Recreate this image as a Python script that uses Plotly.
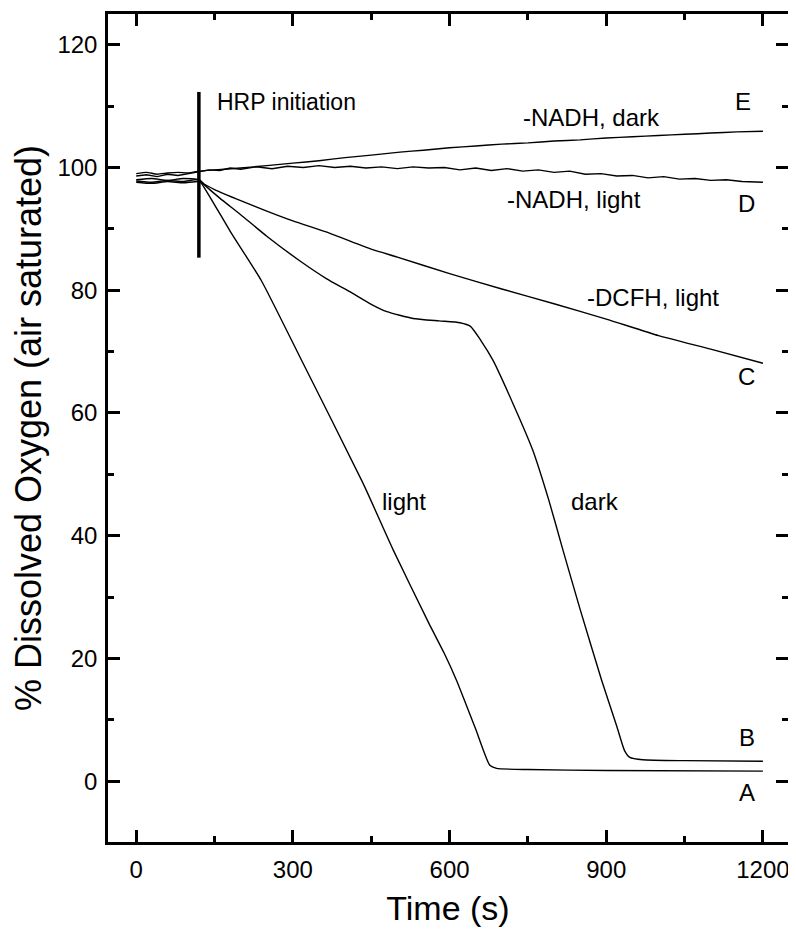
import plotly.graph_objects as go

# ---- data ----
t_E = [0, 20, 40, 60, 80, 100, 120, 150, 200, 250, 300, 350, 400, 450, 505, 550, 600, 650, 700,
       750, 800, 850, 900, 950, 1000, 1050, 1100, 1150, 1200]
y_E = [99.0, 99.2, 98.9, 99.1, 99.2, 99.1, 99.4, 99.6, 99.9, 100.3, 100.7, 101.1, 101.6, 102.0, 102.5,
       102.8, 103.2, 103.5, 103.8, 104.0, 104.3, 104.5, 104.8, 105.0, 105.2, 105.4, 105.6, 105.8, 105.9]

t_D = [0, 20, 40, 60, 80, 100, 120, 140, 160, 180, 200, 230, 260, 290, 320, 350, 380, 410, 440, 470,
       500, 530, 560, 590, 620, 650, 680, 710, 740, 770, 800, 830, 860, 890, 920, 950, 980, 1010,
       1040, 1070, 1100, 1130, 1160, 1200]
y_D = [98.6, 98.8, 98.5, 98.9, 98.7, 99.0, 99.2, 99.6, 99.5, 99.9, 99.7, 100.1, 99.8, 100.2, 100.0,
       100.3, 100.0, 100.2, 99.9, 100.1, 99.8, 100.1, 99.9, 100.0, 99.6, 99.9, 99.5, 99.8, 99.4, 99.6,
       99.2, 99.4, 98.9, 99.0, 98.6, 98.7, 98.3, 98.5, 98.1, 98.2, 97.9, 98.0, 97.7, 97.6]

t_C = [0, 30, 60, 90, 120, 130, 150, 200, 250, 300, 370, 453, 500, 600, 700, 800, 900, 1000, 1100, 1200]
y_C = [98.0, 98.2, 97.9, 98.2, 98.0, 97.3, 96.4, 94.6, 92.9, 91.3, 89.3, 86.6, 85.4, 82.7, 80.2, 77.8,
       75.3, 72.6, 70.4, 68.1]

t_B = [0, 30, 60, 90, 120, 130, 160, 200, 250, 313, 364, 408, 450, 480, 530, 580, 620, 640, 660, 683,
       720, 759, 790, 817, 850, 891, 920, 935, 945, 970, 1050, 1200]
y_B = [97.8, 97.6, 97.9, 97.7, 98.0, 97.2, 95.0, 92.3, 88.8, 84.8, 81.9, 79.8, 77.7, 76.5, 75.4, 75.0,
       74.7, 74.1, 71.8, 68.6, 61.8, 54.0, 45.8, 37.7, 28.0, 16.5, 9.0, 5.0, 3.9, 3.5, 3.35, 3.25]

t_A = [0, 30, 60, 90, 120, 125, 180, 240, 313, 434, 492, 560, 590, 613, 650, 677, 690, 750, 900, 1200]
y_A = [97.6, 97.4, 97.7, 97.5, 97.7, 97.4, 89.6, 81.5, 69.2, 48.6, 37.7, 25.8, 20.8, 16.5, 8.5, 2.6,
       2.1, 1.9, 1.75, 1.65]

hrp_t = [120, 120]
hrp_y = [85.3, 112.3]

labels = ["HRP initiation", "-NADH, dark", "E", "-NADH, light", "D", "-DCFH, light", "C",
          "light", "dark", "B", "A"]
label_x = [150, 872, 1162, 839, 1169, 990, 1169, 513, 879, 1169, 1169]
label_y = [110.7, 108.2, 110.8, 94.8, 94.1, 78.8, 66.0, 45.6, 45.6, 7.05, -1.85]
label_anchor = ["left", "center", "center", "center", "center", "center", "center",
                "center", "center", "center", "center"]
label_size = [23, 24, 24, 24, 24, 24, 24, 24, 24, 24, 24]

x_ticks = [0, 300, 600, 900, 1200]
y_ticks = [0, 20, 40, 60, 80, 100, 120]

FONT = "Liberation Sans, Arial, Helvetica, sans-serif"

fig = go.Figure()
for t, y, name, shape in [(t_E, y_E, "E", "spline"), (t_D, y_D, "D", "linear"),
                          (t_C, y_C, "C", "spline"), (t_B, y_B, "B", "spline"),
                          (t_A, y_A, "A", "spline")]:
    ln = dict(color="black", width=1.4, shape=shape)
    if shape == "spline":
        ln["smoothing"] = 0.5
    fig.add_trace(go.Scatter(x=t, y=y, mode="lines", line=ln, name=name, showlegend=False))

fig.add_trace(go.Scatter(x=hrp_t, y=hrp_y, mode="lines", line=dict(color="black", width=3.5),
                         showlegend=False))

for txt, lx, ly, anc, sz in zip(labels, label_x, label_y, label_anchor, label_size):
    fig.add_annotation(x=lx, y=ly, text=txt, showarrow=False, xanchor=anc, yanchor="middle",
                       font=dict(family=FONT, size=sz, color="black"))

axis_common = dict(showline=True, linecolor="black", linewidth=2.5, mirror="ticks",
                   ticks="inside", tickcolor="black", tickwidth=2.5, showgrid=False, zeroline=False,
                   automargin=False,
                   tickfont=dict(family=FONT, size=24, color="black"))

fig.update_xaxes(range=[-54, 1248], tickvals=x_ticks, ticklen=12,
                 minor=dict(ticks="inside", dtick=150, tick0=0, ticklen=6, tickwidth=2.5, tickcolor="black", showgrid=False),
                 title=dict(text="Time (s)", font=dict(family=FONT, size=34, color="black"), standoff=15),
                 ticklabelstandoff=4,
                 **axis_common)
fig.update_yaxes(range=[-9.9, 125], tickvals=y_ticks, ticklen=12,
                 minor=dict(ticks="inside", dtick=10, tick0=0, ticklen=6, tickwidth=2.5, tickcolor="black", showgrid=False),
                 title=dict(text="% Dissolved Oxygen (air saturated)", font=dict(family=FONT, size=36, color="black"), standoff=8),
                 ticklabelstandoff=3,
                 **axis_common)

# the page adds an 8 px body margin, so the figure is sized to fit inside the window
fig.update_layout(width=788, height=930, plot_bgcolor="white", paper_bgcolor="white",
                  margin=dict(l=100, r=8, t=6, b=95.5), showlegend=False)

fig.write_html("out.html")
